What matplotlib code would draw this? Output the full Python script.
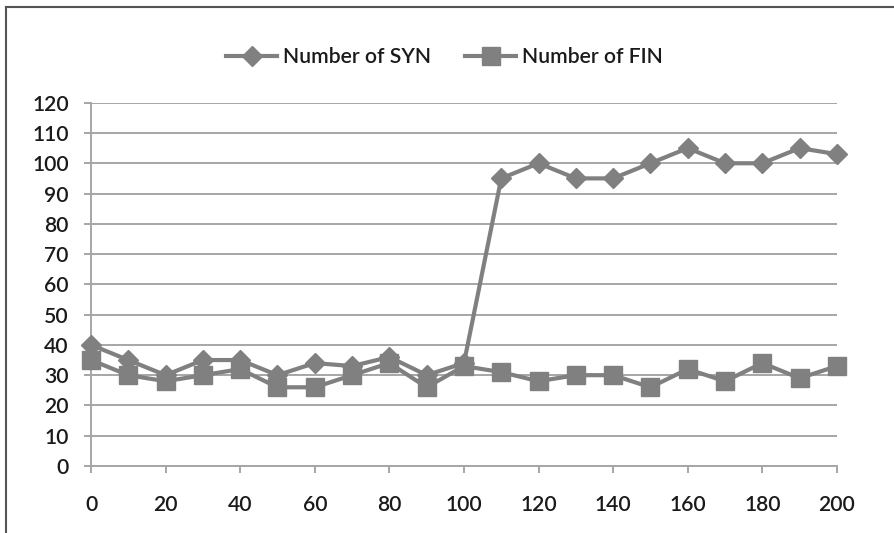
import matplotlib
matplotlib.use("Agg")
import matplotlib.pyplot as plt
from matplotlib.lines import Line2D

time_x = list(range(0, 201, 10))
syn_counts = [40, 35, 30, 35, 35, 30, 34, 33, 36, 30, 34,
              95, 100, 95, 95, 100, 105, 100, 100, 105, 103]
fin_counts = [35, 30, 28, 30, 32, 26, 26, 30, 34, 26, 33,
              31, 28, 30, 30, 26, 32, 28, 34, 29, 33]
x_ticks = list(range(0, 201, 20))
y_ticks = list(range(0, 121, 10))

plt.rcParams['font.family'] = ['Lato', 'DejaVu Sans']
plt.rcParams['font.weight'] = 'semibold'

fig = plt.figure(figsize=(8.95, 5.33), dpi=100)
ax = fig.add_axes([0.1017, 0.1257, 0.8334, 0.6816])

gray = '#808080'
ax.plot(time_x, syn_counts, color=gray, lw=3.0, marker='D', markersize=10,
        markerfacecolor=gray, markeredgecolor=gray, clip_on=False, zorder=4,
        label='Number of SYN')
ax.plot(time_x, fin_counts, color=gray, lw=3.0, marker='s', markersize=13,
        markerfacecolor=gray, markeredgecolor=gray, clip_on=False, zorder=4,
        label='Number of FIN')

ax.set_xlim(0, 200)
ax.set_ylim(0, 120)
ax.set_xticks(x_ticks)
ax.set_yticks(y_ticks)
ax.grid(axis='y', color='#a6a6a6', lw=1.4)
ax.set_axisbelow(True)
for s in ['top', 'right']:
    ax.spines[s].set_visible(False)
for s in ['left', 'bottom']:
    ax.spines[s].set_color('#a6a6a6')
    ax.spines[s].set_linewidth(1.4)
ax.tick_params(axis='y', direction='out', length=5, width=1.4, color='#a6a6a6',
               pad=11, labelsize=15.2, labelcolor='#1a1a1a')
ax.tick_params(axis='x', direction='out', length=5, width=1.4, color='#a6a6a6',
               pad=16, labelsize=15.2, labelcolor='#1a1a1a')

leg = fig.legend(loc='center', bbox_to_anchor=(0.497, 0.893), ncol=2, frameon=False,
                 fontsize=15.2, handlelength=2.4, columnspacing=1.6, handletextpad=0.3)
for t in leg.get_texts():
    t.set_color('#1a1a1a')

fig.add_artist(Line2D([0.0067, 1.0], [0.986, 0.986], color='#555555', lw=1.5,
                      transform=fig.transFigure))
fig.add_artist(Line2D([0.0067, 0.0067], [0.0, 0.986], color='#555555', lw=1.5,
                      transform=fig.transFigure))

fig.savefig('out.png', dpi=100)
